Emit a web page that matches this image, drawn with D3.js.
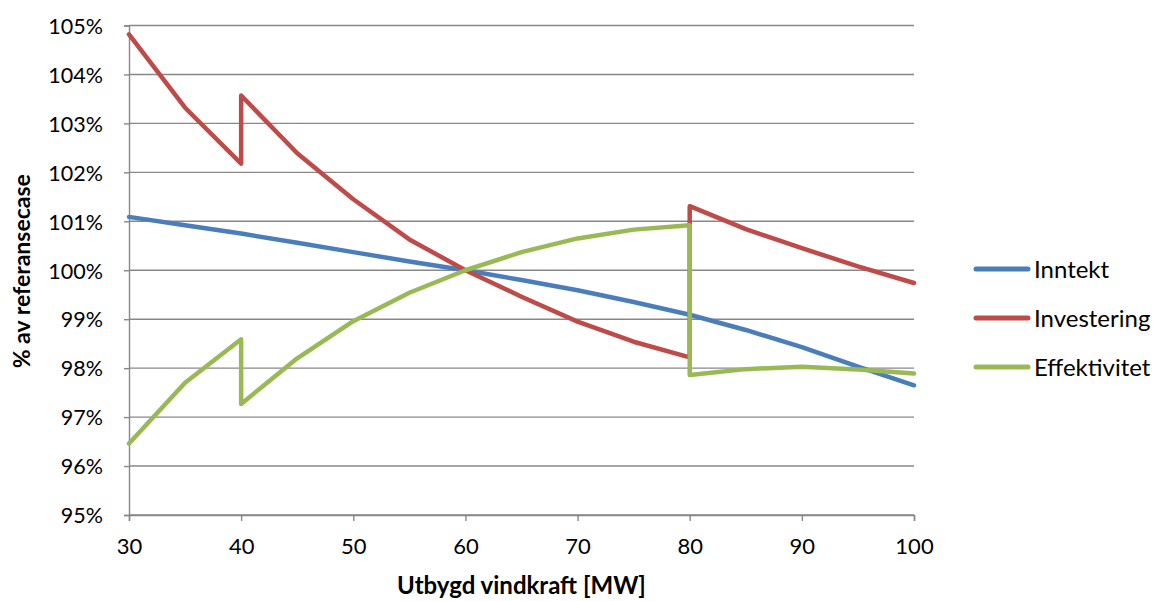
<!DOCTYPE html>
<html>
<head>
<meta charset="utf-8">
<script src="https://cdn.jsdelivr.net/npm/d3@7"></script>
<style>
  html, body { margin: 0; padding: 0; background: #fff; }
  svg { display: block; }
  text { font-family: Lato, "Liberation Sans", sans-serif; fill: #000; }
</style>
</head>
<body>
<svg id="chart" width="1154" height="601"></svg>
<script>
// Utbygd vindkraft [MW]; 40 and 80 appear twice where the series jump
const mw = [30, 35, 40, 40, 45, 50, 55, 60, 65, 70, 75, 80, 80, 85, 90, 95, 100];

// Values in % of the reference case
const inntekt      = [101.09, 100.92, 100.75, 100.75, 100.56, 100.37, 100.18, 100.00, 99.80, 99.59, 99.35, 99.09, 99.09, 98.78, 98.43, 98.03, 97.65];
const investering  = [104.82, 103.32, 102.18, 103.57, 102.39, 101.45, 100.63, 100.00, 99.46, 98.95, 98.54, 98.22, 101.31, 100.84, 100.45, 100.08, 99.74];
const effektivitet = [96.46, 97.70, 98.59, 97.27, 98.20, 98.96, 99.54, 100.00, 100.37, 100.65, 100.83, 100.92, 97.86, 97.98, 98.03, 97.97, 97.89];

const seriesNames  = ["Inntekt", "Investering", "Effektivitet"];
const seriesColors = ["#4A7EBB", "#BE4B48", "#98B954"];
const seriesValues = [inntekt, investering, effektivitet];

const xTicks = [30, 40, 50, 60, 70, 80, 90, 100];
const yTicks = [95, 96, 97, 98, 99, 100, 101, 102, 103, 104, 105];

const xTitle = "Utbygd vindkraft [MW]";
const yTitle = "% av referansecase";

const svg = d3.select("#chart");
const plot = { left: 129, right: 914, top: 25.5, bottom: 515 };

const x = d3.scaleLinear().domain([30, 100]).range([plot.left, plot.right]);
const y = d3.scaleLinear().domain([95, 105]).range([plot.bottom, plot.top]);

const gridColor = "#888888";

// Horizontal gridlines
svg.append("g")
  .selectAll("line")
  .data(yTicks)
  .join("line")
  .attr("x1", plot.left).attr("x2", plot.right)
  .attr("y1", d => y(d)).attr("y2", d => y(d))
  .attr("stroke", gridColor).attr("stroke-width", 1.4);

// Y axis
const yAxis = d3.axisLeft(y)
  .tickValues(yTicks)
  .tickSize(5)
  .tickPadding(8)
  .tickFormat(d => d + "%");
const gy = svg.append("g").attr("transform", `translate(${plot.left},0)`).call(yAxis);
gy.select(".domain").attr("stroke", gridColor).attr("stroke-width", 1.4);
gy.selectAll(".tick line").attr("stroke", gridColor).attr("stroke-width", 1.4);
gy.selectAll(".tick text").style("font-size", "21.5px").attr("dy", "0.36em").attr("x", -26).attr("fill", "#000");

// X axis
const xAxis = d3.axisBottom(x)
  .tickValues(xTicks)
  .tickSize(6)
  .tickPadding(17)
  .tickFormat(d3.format("d"));
const gx = svg.append("g").attr("transform", `translate(0,${plot.bottom})`).call(xAxis);
gx.select(".domain").attr("stroke", gridColor).attr("stroke-width", 1.4);
gx.selectAll(".tick line").attr("stroke", gridColor).attr("stroke-width", 1.4);
gx.selectAll(".tick text").style("font-size", "22px").attr("fill", "#000");

// Series lines
const line = d3.line()
  .x((d, i) => x(mw[i]))
  .y(d => y(d))
  .curve(d3.curveLinear);

svg.append("g")
  .selectAll("path")
  .data(seriesValues)
  .join("path")
  .attr("d", d => line(d))
  .attr("fill", "none")
  .attr("stroke", (d, i) => seriesColors[i])
  .attr("stroke-width", 4.5)
  .attr("stroke-linejoin", "round")
  .attr("stroke-linecap", "round");

// Axis titles
svg.append("text")
  .attr("x", (plot.left + plot.right) / 2)
  .attr("y", 594)
  .attr("text-anchor", "middle")
  .style("font-size", "24px")
  .style("font-weight", "bold")
  .text(xTitle);

svg.append("text")
  .attr("transform", `translate(30,${(plot.top + plot.bottom) / 2 + 1}) rotate(-90)`)
  .attr("text-anchor", "middle")
  .style("font-size", "23px")
  .style("font-weight", "bold")
  .text(yTitle);

// Legend
const legend = svg.append("g")
  .selectAll("g")
  .data(seriesNames)
  .join("g")
  .attr("transform", (d, i) => `translate(976,${269 + i * 49})`);

legend.append("line")
  .attr("x1", 0).attr("x2", 52)
  .attr("y1", 0).attr("y2", 0)
  .attr("stroke", (d, i) => seriesColors[i])
  .attr("stroke-width", 5)
  .attr("stroke-linecap", "round");

legend.append("text")
  .attr("x", 58)
  .attr("dy", "0.36em")
  .style("font-size", "24px")
  .text(d => d);
</script>
</body>
</html>
